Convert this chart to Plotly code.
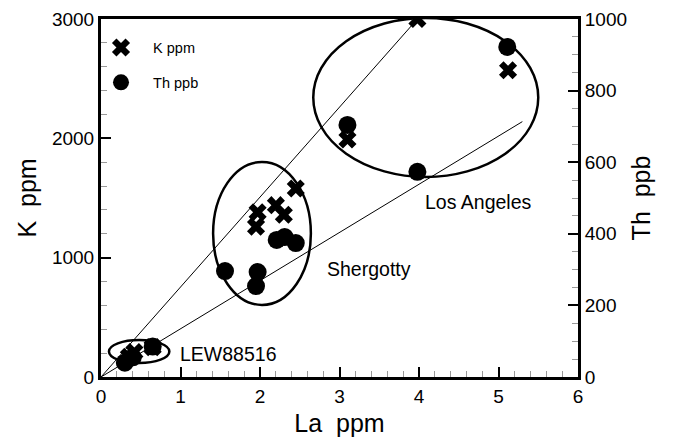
import plotly.graph_objects as go

# ---- data ----
k_la = [0.35, 0.42, 0.65, 1.95, 1.97, 2.2, 2.3, 2.45, 3.1, 3.98, 5.12]
k_ppm = [170, 210, 250, 1260, 1380, 1440, 1360, 1580, 1990, 3000, 2570]

th_la = [0.3, 0.4, 0.65, 1.56, 1.95, 1.97, 2.21, 2.31, 2.45, 3.1, 3.98, 5.11]
th_ppb = [40, 55, 85, 296, 254, 293, 383, 391, 374, 704, 573, 922]

line1_la = [0, 3.98]
line1_k = [0, 3000]
line2_la = [0, 5.3]
line2_k = [0, 2140]

# ellipses: name, La min, La max, K min, K max
ell_names = ["LEW88516", "Shergotty", "Los Angeles"]
ell_x0 = [0.10, 1.41, 2.67]
ell_x1 = [0.86, 2.64, 5.50]
ell_y0 = [117, 604, 1676]
ell_y1 = [310, 1802, 3009]

# label positions (left edge)
lab_la = [0.97, 2.82, 4.05]
lab_k = [190, 905, 1470]

x_ticks = [0, 1, 2, 3, 4, 5, 6]
k_ticks = [0, 1000, 2000, 3000]
th_ticks = [0, 200, 400, 600, 800, 1000]

FONT = "Arial, Liberation Sans, sans-serif"
PAD = "\u00a0\u00a0\u00a0"

fig = go.Figure()

fig.add_trace(go.Scatter(x=line1_la, y=line1_k, mode="lines",
                         line=dict(color="black", width=1), showlegend=False,
                         hoverinfo="skip"))
fig.add_trace(go.Scatter(x=line2_la, y=line2_k, mode="lines",
                         line=dict(color="black", width=1), showlegend=False,
                         hoverinfo="skip"))

fig.add_trace(go.Scatter(x=k_la, y=k_ppm, mode="markers", name=PAD + "K ppm",
                         legendgroup="k",
                         marker=dict(symbol="x", size=16, color="black",
                                     line=dict(width=0))))
fig.add_trace(go.Scatter(x=th_la, y=th_ppb, mode="markers", name=PAD + "Th ppb",
                         legendgroup="th", yaxis="y2",
                         marker=dict(symbol="circle", size=18, color="black")))

for i in range(len(ell_names)):
    fig.add_shape(type="circle", xref="x", yref="y",
                  x0=ell_x0[i], x1=ell_x1[i], y0=ell_y0[i], y1=ell_y1[i],
                  line=dict(color="black", width=2.5), layer="above")
    fig.add_annotation(x=lab_la[i], y=lab_k[i], xref="x", yref="y",
                       text=ell_names[i], showarrow=False, xanchor="left",
                       font=dict(size=19.5, color="black", family=FONT))

minor_common = dict(ticks="inside", ticklen=6, tickcolor="#999999", tickwidth=1)

fig.update_layout(
    width=673, height=442,
    margin=dict(l=93, r=103, t=11, b=73, autoexpand=False),
    paper_bgcolor="white", plot_bgcolor="white",
    font=dict(family=FONT, color="black"),
    showlegend=True,
    legend=dict(x=0.0, y=0.965, xanchor="left", yanchor="top",
                bgcolor="rgba(0,0,0,0)", font=dict(size=14.5, family=FONT),
                tracegroupgap=13, itemsizing="trace"),
    xaxis=dict(range=[0, 6], tickvals=x_ticks, ticks="inside", ticklen=10,
               tickwidth=2, tickcolor="black", showline=True, linewidth=3,
               linecolor="black", mirror=True, showgrid=False, zeroline=False,
               automargin=False,
               tickfont=dict(size=19), title=dict(text="La  ppm", font=dict(size=25), standoff=9),
               minor=dict(dtick=0.2, **minor_common)),
    yaxis=dict(range=[0, 3000], tickvals=k_ticks, ticks="inside", ticklen=10,
               tickwidth=2, tickcolor="black", showline=True, linewidth=3,
               linecolor="black", showgrid=False, zeroline=False,
               automargin=False,
               tickfont=dict(size=19), title=dict(text="K  ppm", font=dict(size=25), standoff=9),
               minor=dict(dtick=200, **minor_common)),
    yaxis2=dict(range=[0, 1000], tickvals=th_ticks, overlaying="y", side="right",
                ticks="inside", ticklen=10, tickwidth=2, tickcolor="black",
                showline=True, linewidth=3, linecolor="black", showgrid=False,
                zeroline=False, automargin=False, tickfont=dict(size=19),
                title=dict(text="Th  ppb", font=dict(size=25), standoff=7),
                minor=dict(dtick=50, **minor_common)),
)

fig.write_html("out.html")
